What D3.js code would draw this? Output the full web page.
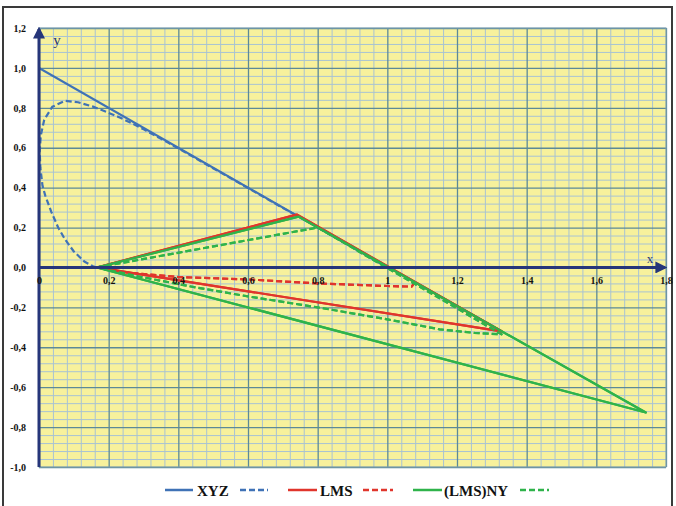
<!DOCTYPE html>
<html><head><meta charset="utf-8">
<script src="https://cdn.jsdelivr.net/npm/d3@7/dist/d3.min.js"></script>
<style>body{margin:0;background:#fff}svg{display:block}</style>
</head><body><svg id="c" width="676" height="506"></svg>
<script>
// ---- data ----
const xTickValues = [0, 0.2, 0.4, 0.6, 0.8, 1, 1.2, 1.4, 1.6, 1.8];
const xTickLabels = ["0", "0,2", "0,4", "0,6", "0,8", "1", "1,2", "1,4", "1,6", "1,8"];
const yTickValues = [1.2, 1.0, 0.8, 0.6, 0.4, 0.2, 0, -0.2, -0.4, -0.6, -0.8, -1.0];
const yTickLabels = ["1,2", "1,0", "0,8", "0,6", "0,4", "0,2", "0,0", "-0,2", "-0,4", "-0,6", "-0,8", "-1,0"];
const seriesNames = ["XYZ", "LMS", "(LMS)NY"];

// XYZ solid (triangle)
const xyzSolidX = [0, 1, 0, 0];
const xyzSolidY = [0, 0, 1, 0];
// XYZ dashed (spectral locus)
const xyzDashX = [0.165, 0.155, 0.13, 0.10, 0.075, 0.055, 0.035, 0.018, 0.010, 0.004, 0.002, 0.005, 0.015, 0.038, 0.075, 0.112, 0.155, 0.193, 0.23, 0.266, 0.302, 0.337, 0.373, 0.444, 0.512, 0.575, 0.627, 0.69, 0.72, 0.735];
const xyzDashY = [0.0, 0.006, 0.03, 0.08, 0.14, 0.20, 0.28, 0.36, 0.41, 0.50, 0.58, 0.66, 0.74, 0.805, 0.835, 0.828, 0.806, 0.78, 0.753, 0.723, 0.691, 0.657, 0.623, 0.553, 0.485, 0.423, 0.371, 0.308, 0.279, 0.264];
// LMS solid (triangle)
const lmsSolidX = [0.166, 0.74, 1.328, 0.166];
const lmsSolidY = [0, 0.265, -0.32, 0];
// LMS dashed
const lmsDashX = [0.166, 0.25, 0.4, 0.6, 0.8, 1.0, 1.07, 1.075];
const lmsDashY = [0, -0.025, -0.048, -0.06, -0.08, -0.093, -0.096, -0.083];
// (LMS)NY solid (triangle)
const nySolidX = [0.166, 0.745, 1.742, 0.166];
const nySolidY = [0, 0.255, -0.727, 0];
// (LMS)NY dashed
const nyDashX = [0.166, 0.8, 1.328, 1.25, 1.15, 1.0, 0.8, 0.6, 0.45, 0.3, 0.166];
const nyDashY = [0, 0.2, -0.335, -0.328, -0.31, -0.26, -0.2, -0.145, -0.1, -0.05, 0];

// ---- drawing ----
const svg = d3.select("#c");
const W = 676, H = 506;
const x = d3.scaleLinear().domain([0, 1.8]).range([39, 666]);
const y = d3.scaleLinear().domain([-1, 1.2]).range([467, 28]);
const colors = {blue: "#3f72b6", red: "#e0352c", green: "#2fb34b"};

// frame
svg.append("rect").attr("x", 3).attr("y", 7).attr("width", 669).attr("height", 510)
  .attr("fill", "#fff").attr("stroke", "#3a3a3a").attr("stroke-width", 2);

// plot background
svg.append("rect").attr("x", x(0)).attr("y", y(1.2)).attr("width", x(1.8) - x(0)).attr("height", y(-1) - y(1.2))
  .attr("fill", "#f7f19c");

const clip = svg.append("clipPath").attr("id", "pc").append("rect")
  .attr("x", x(0)).attr("y", y(1.2)).attr("width", x(1.8) - x(0)).attr("height", y(-1) - y(1.2));

// grid
const minorX = d3.range(0, 46).map(i => Math.round(i * 4) / 100).filter(v => Math.round(v * 100) % 20 !== 0);
const minorY = d3.range(0, 56).map(i => Math.round(-100 + i * 4) / 100).filter(v => Math.round(Math.abs(v) * 100) % 20 !== 0);
const gMinX = svg.append("g").attr("transform", `translate(0,${y(-1)})`)
  .call(d3.axisBottom(x).tickValues(minorX).tickSize(-(y(-1) - y(1.2))).tickFormat(""));
const gMinY = svg.append("g").attr("transform", `translate(${x(0)},0)`)
  .call(d3.axisLeft(y).tickValues(minorY).tickSize(-(x(1.8) - x(0))).tickFormat(""));
[gMinX, gMinY].forEach(g => { g.select(".domain").remove(); g.selectAll("line").attr("stroke", "#a8c3d3").attr("stroke-width", 1); });
const gMajX = svg.append("g").attr("transform", `translate(0,${y(-1)})`)
  .call(d3.axisBottom(x).tickValues(xTickValues).tickSize(-(y(-1) - y(1.2))).tickFormat(""));
const gMajY = svg.append("g").attr("transform", `translate(${x(0)},0)`)
  .call(d3.axisLeft(y).tickValues(yTickValues).tickSize(-(x(1.8) - x(0))).tickFormat(""));
[gMajX, gMajY].forEach(g => { g.select(".domain").remove(); g.selectAll("line").attr("stroke", "#5d8a97").attr("stroke-width", 1.3); });

// plot border
svg.append("rect").attr("x", x(0)).attr("y", y(1.2)).attr("width", x(1.8) - x(0)).attr("height", y(-1) - y(1.2))
  .attr("fill", "none").attr("stroke", "#7f9fb3").attr("stroke-width", 1);

// series
const line = d3.line().x(d => x(d[0])).y(d => y(d[1]));
const zip = (a, b) => a.map((v, i) => [v, b[i]]);
const gS = svg.append("g").attr("clip-path", "url(#pc)");
const series = [
  {xs: xyzSolidX, ys: xyzSolidY, c: colors.blue, dash: null},
  {xs: xyzDashX, ys: xyzDashY, c: colors.blue, dash: "6,3"},
  {xs: lmsSolidX, ys: lmsSolidY, c: colors.red, dash: null},
  {xs: lmsDashX, ys: lmsDashY, c: colors.red, dash: "6,3"},
  {xs: nySolidX, ys: nySolidY, c: colors.green, dash: null},
  {xs: nyDashX, ys: nyDashY, c: colors.green, dash: "6,3"}
];
// axes (drawn under series but over XYZ triangle sides)
series.forEach((s, i) => {
  gS.append("path").datum(zip(s.xs, s.ys)).attr("d", line)
    .attr("fill", "none").attr("stroke", s.c).attr("stroke-width", 2.2)
    .attr("stroke-linejoin", "round")
    .attr("stroke-dasharray", s.dash);
});

// axes lines with arrows
const defs = svg.append("defs");
defs.append("marker").attr("id", "arr").attr("viewBox", "0 0 10 10").attr("refX", 8).attr("refY", 5)
  .attr("markerWidth", 4).attr("markerHeight", 4).attr("orient", "auto")
  .append("path").attr("d", "M0,0L10,5L0,10z").attr("fill", "#26367a");
svg.append("line").attr("x1", x(0)).attr("y1", y(0)).attr("x2", x(1.8) - 1).attr("y2", y(0))
  .attr("stroke", "#26367a").attr("stroke-width", 3).attr("marker-end", "url(#arr)");
svg.append("line").attr("x1", x(0)).attr("y1", y(-1)).attr("x2", x(0)).attr("y2", y(1.2) + 1)
  .attr("stroke", "#26367a").attr("stroke-width", 3).attr("marker-end", "url(#arr)");

// re-draw series over x-axis? (series lie over axis in reference)
series.slice(2).forEach(s => {
  gS.append("path").datum(zip(s.xs, s.ys)).attr("d", line)
    .attr("fill", "none").attr("stroke", s.c).attr("stroke-width", 2.2)
    .attr("stroke-linejoin", "round").attr("stroke-dasharray", s.dash);
});

// tick labels
const font = "'Liberation Serif','Times New Roman',serif";
const ax = svg.append("g").attr("transform", `translate(0,${y(0)})`)
  .call(d3.axisBottom(x).tickValues(xTickValues).tickSize(0).tickPadding(9)
    .tickFormat((d, i) => xTickLabels[i]));
const ay = svg.append("g").attr("transform", `translate(${x(0)},0)`)
  .call(d3.axisLeft(y).tickValues(yTickValues).tickSize(0).tickPadding(13)
    .tickFormat((d, i) => yTickLabels[i]));
[ax, ay].forEach(g => {
  g.select(".domain").remove();
  g.selectAll("text").attr("font-family", font).attr("font-weight", "bold").attr("font-size", 10).attr("fill", "#111");
});

// axis names
svg.append("text").attr("x", 57).attr("y", 45).text("y")
  .attr("font-family", font).attr("font-size", 15).attr("fill", "#26367a").attr("text-anchor", "middle");
svg.append("text").attr("x", 650).attr("y", 263).text("x")
  .attr("font-family", font).attr("font-size", 13).attr("fill", "#26367a").attr("text-anchor", "middle");

// legend
const lg = svg.append("g");
const legendItems = [
  {x1: 165, x2: 193, c: colors.blue, dash: null, label: seriesNames[0], tx: 197},
  {x1: 240, x2: 268, c: colors.blue, dash: "6,3"},
  {x1: 288, x2: 317, c: colors.red, dash: null, label: seriesNames[1], tx: 320},
  {x1: 363, x2: 393, c: colors.red, dash: "6,3"},
  {x1: 413, x2: 442, c: colors.green, dash: null, label: seriesNames[2], tx: 444},
  {x1: 520, x2: 549, c: colors.green, dash: "6,3"}
];
legendItems.forEach(it => {
  lg.append("line").attr("x1", it.x1).attr("x2", it.x2).attr("y1", 490).attr("y2", 490)
    .attr("stroke", it.c).attr("stroke-width", 2.5).attr("stroke-dasharray", it.dash);
  if (it.label) lg.append("text").attr("x", it.tx).attr("y", 495.5).text(it.label)
    .attr("font-family", font).attr("font-weight", "bold").attr("font-size", 15).attr("fill", "#111");
});
</script></body></html>
